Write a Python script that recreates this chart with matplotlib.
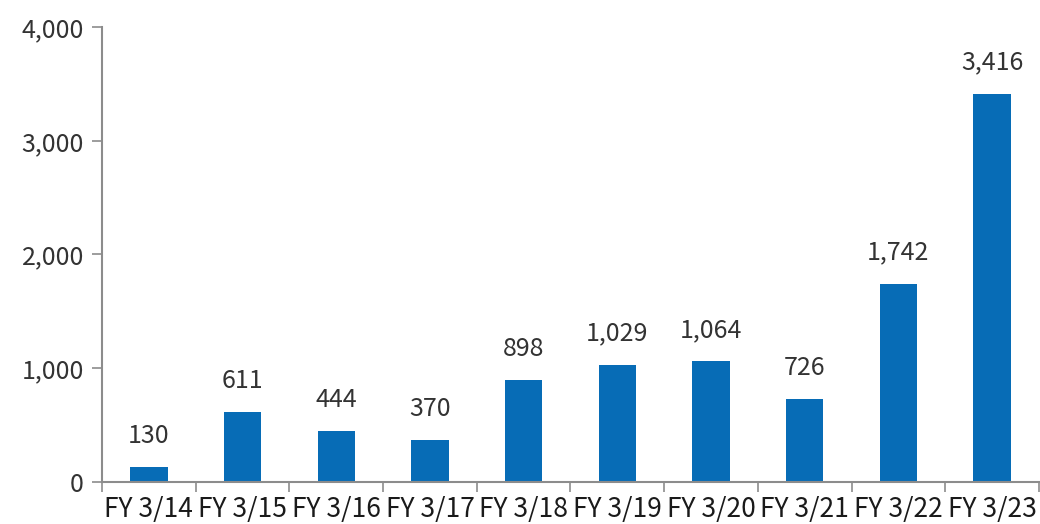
import numpy as np
import matplotlib.pyplot as plt
from matplotlib.ticker import FuncFormatter, FixedLocator

plt.rcParams['font.family'] = ['Noto Sans CJK JP', 'DejaVu Sans']

# Dados
anos = ['FY 3/14', 'FY 3/15', 'FY 3/16', 'FY 3/17', 'FY 3/18',
        'FY 3/19', 'FY 3/20', 'FY 3/21', 'FY 3/22', 'FY 3/23']
valores = [130, 611, 444, 370, 898, 1029, 1064, 726, 1742, 3416]

cor = '#076cb6'
texto = '#333333'
eixo = '#8c8c8c'

fig = plt.figure(figsize=(10.4, 5.24), dpi=100)
ax = fig.add_axes([0.0981, 0.0807, 0.9009, 0.8673])

x = np.arange(len(anos))
ax.bar(x, valores, width=0.4, color=cor)

for xi, v in zip(x, valores):
    ax.annotate(f'{v:,}', (xi, v), xytext=(0, 13), textcoords='offset points',
                ha='center', va='bottom', fontsize=18, color=texto)

ax.set_xlim(-0.5, len(anos) - 0.5)
ax.set_ylim(0, 4000)
ax.set_yticks([0, 1000, 2000, 3000, 4000])
ax.yaxis.set_major_formatter(FuncFormatter(lambda v, p: f'{int(v):,}'))
ax.set_xticks(x)
ax.set_xticklabels(anos)
ax.xaxis.set_minor_locator(FixedLocator(np.arange(-0.5, len(anos), 1.0)))

ax.spines['top'].set_visible(False)
ax.spines['right'].set_visible(False)
for s in ['left', 'bottom']:
    ax.spines[s].set_color(eixo)
    ax.spines[s].set_linewidth(1.5)

ax.tick_params(axis='y', length=7, width=1.2, color=eixo, labelsize=18,
               labelcolor=texto, pad=6)
ax.tick_params(axis='x', which='major', length=0, labelsize=19,
               labelcolor='#1a1a1a', pad=10)
ax.tick_params(axis='x', which='minor', length=7, width=1.2, color=eixo)

fig.savefig('out.png', dpi=100)
